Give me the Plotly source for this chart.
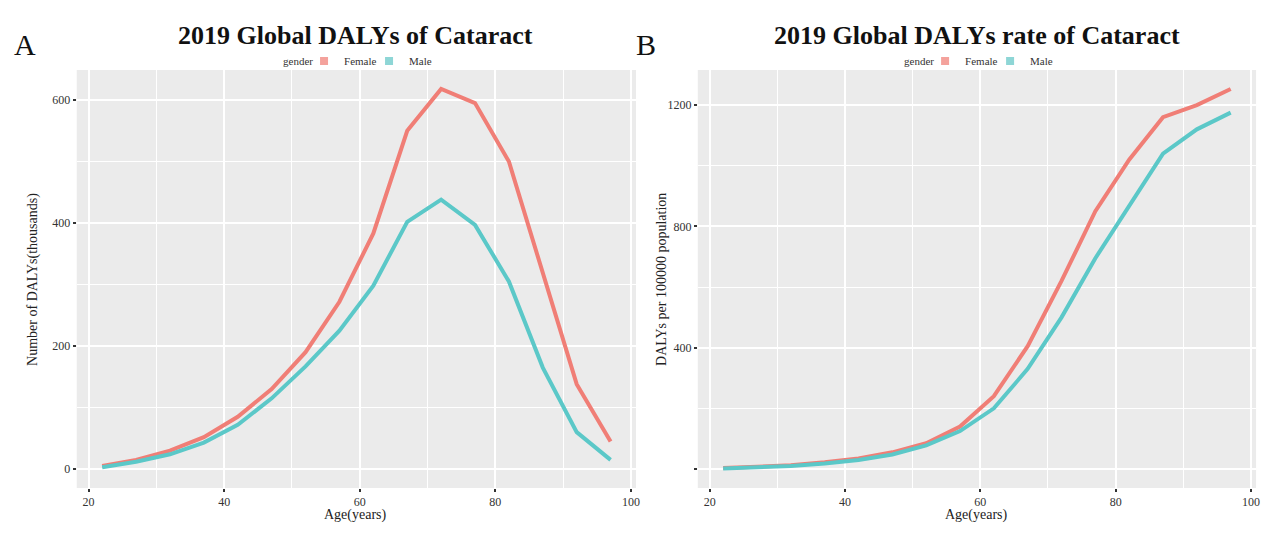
import plotly.graph_objects as go

ages = [22, 27, 32, 37, 42, 47, 52, 57, 62, 67, 72, 77, 82, 87, 92, 97]
dalys_female = [5, 15, 30, 52, 85, 130, 190, 272, 383, 550, 618, 595, 500, 320, 138, 45]
dalys_male = [3, 12, 24, 43, 72, 115, 167, 225, 298, 402, 438, 397, 305, 165, 60, 15]
rate_female = [3, 6, 12, 22, 35, 55, 85, 140, 240, 405, 620, 850, 1020, 1160, 1200, 1253]
rate_male = [2, 5, 10, 18, 30, 48, 78, 125, 200, 330, 500, 695, 865, 1040, 1120, 1175]

x_ticks = [20, 40, 60, 80, 100]
left_y_ticks = [0, 200, 400, 600]
right_y_ticks = [0, 400, 800, 1200]
right_y_labels = ["", "400", "800", "1200"]

FEMALE = "#F07E76"
MALE = "#5BC8C8"
FONT = "Liberation Serif"

W, H = 1277, 541
def px(x):
    return x / W
def py(y):
    return 1 - y / H

fig = go.Figure()
for xa_, ya_, lg, yf, ym in [("x", "y", "legend", dalys_female, dalys_male),
                              ("x2", "y2", "legend2", rate_female, rate_male)]:
    fig.add_trace(go.Scatter(x=ages, y=yf, mode="lines", name="Female", showlegend=False,
                             line=dict(color=FEMALE, width=4), xaxis=xa_, yaxis=ya_))
    fig.add_trace(go.Scatter(x=ages, y=ym, mode="lines", name="Male", showlegend=False,
                             line=dict(color=MALE, width=4), xaxis=xa_, yaxis=ya_))
    # legend keys
    fig.add_trace(go.Scatter(x=[None], y=[None], mode="markers", name="Female",
                             marker=dict(color="#F4A29C", symbol="square", size=8),
                             xaxis=xa_, yaxis=ya_, legend=lg))
    fig.add_trace(go.Scatter(x=[None], y=[None], mode="markers", name="Male",
                             marker=dict(color="#8ED6D6", symbol="square", size=8),
                             xaxis=xa_, yaxis=ya_, legend=lg))

ydom = [py(488), py(70)]
axis_common = dict(showline=False, zeroline=False, ticks="outside", ticklen=3,
                   tickcolor="#333333", tickwidth=1.5,
                   gridcolor="white", gridwidth=2,
                   tickfont=dict(family=FONT, size=12, color="#333333"))

xa = dict(axis_common, range=[18.25, 100.75], tickmode="array", tickvals=x_ticks,
          minor=dict(tickmode="array", tickvals=[30, 50, 70, 90], showgrid=True,
                     gridcolor="white", gridwidth=1, ticks=""))

leg_common = dict(orientation="h", yanchor="middle", xanchor="left",
                  font=dict(family=FONT, size=11, color="#333333"),
                  bgcolor="rgba(0,0,0,0)", itemwidth=30, tracegroupgap=0,
                  entrywidth=20, entrywidthmode="pixels")

fig.update_layout(
    width=W, height=H,
    margin=dict(l=0, r=0, t=0, b=0),
    paper_bgcolor="white",
    plot_bgcolor="#EBEBEB",
    font=dict(family=FONT, color="#333333"),
    xaxis=dict(xa, domain=[px(77), px(638)], anchor="y"),
    yaxis=dict(axis_common, domain=ydom, anchor="x", range=[-30.75, 648.75],
               tickmode="array", tickvals=left_y_ticks,
               minor=dict(tickmode="array", tickvals=[100, 300, 500], showgrid=True,
                          gridcolor="white", gridwidth=1, ticks="")),
    xaxis2=dict(xa, domain=[px(700), px(1260)], anchor="y2"),
    yaxis2=dict(axis_common, domain=ydom, anchor="x2", range=[-62.65, 1315.65],
                tickmode="array", tickvals=right_y_ticks, ticktext=right_y_labels,
                minor=dict(tickmode="array", tickvals=[200, 600, 1000], showgrid=True,
                           gridcolor="white", gridwidth=1, ticks="")),
    legend=dict(leg_common, x=px(305), y=py(61)),
    legend2=dict(leg_common, x=px(928), y=py(61)),
    showlegend=True,
)

annots = [
    dict(text="<b>2019 Global DALYs of Cataract</b>", x=px(357), y=py(35), font=dict(size=26, color="#111111")),
    dict(text="<b>2019 Global DALYs rate of Cataract</b>", x=px(980), y=py(35), font=dict(size=26, color="#111111")),
    dict(text="A", x=px(25), y=py(45), font=dict(size=30, color="#111111")),
    dict(text="B", x=px(648), y=py(45), font=dict(size=30, color="#111111")),
    dict(text="Age(years)", x=px(357), y=py(515), font=dict(size=14, color="#222222")),
    dict(text="Age(years)", x=px(980), y=py(515), font=dict(size=14, color="#222222")),
    dict(text="Number of DALYs(thousands)", x=px(33), y=py(279), textangle=-90, font=dict(size=14, color="#222222")),
    dict(text="DALYs per 100000 population", x=px(663), y=py(279), textangle=-90, font=dict(size=14, color="#222222")),
    dict(text="gender", x=px(299), y=py(61), xanchor="center", font=dict(size=11, color="#333333")),
    dict(text="gender", x=px(922), y=py(61), xanchor="center", font=dict(size=11, color="#333333")),
]
for a in annots:
    a.setdefault("xanchor", "center")
    fig.add_annotation(xref="paper", yref="paper", showarrow=False, yanchor="middle",
                       font_family=FONT, **a)

fig.write_html("out.html")
